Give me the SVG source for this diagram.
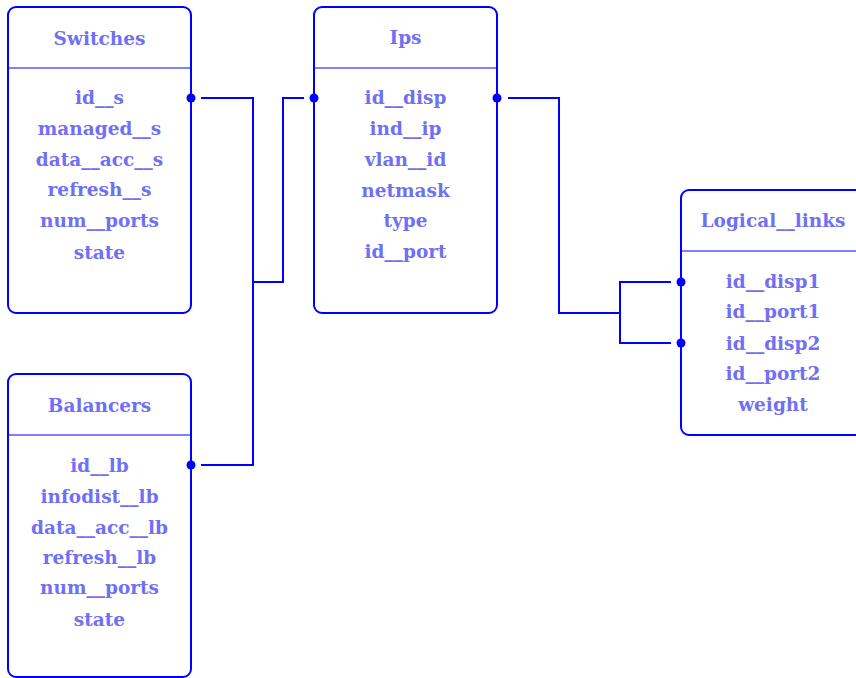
<svg xmlns="http://www.w3.org/2000/svg" width="856" height="678" viewBox="0 0 856 678">
<style>
.box{fill:#fff;stroke:#0000ff;stroke-width:2}
.sep{stroke:#0000ff;stroke-width:1.2}
.t{font-family:"DejaVu Serif","Liberation Serif",serif;font-weight:bold;font-size:18.5px;fill:#7070f4;text-anchor:middle}
.c{fill:none;stroke:#0000ff;stroke-width:2}
.d{fill:#0000ff}
</style>
<rect width="856" height="678" fill="#fff"/>
<g id="switches">
<rect class="box" x="8" y="7" width="183" height="306" rx="8"/>
<line class="sep" x1="8" y1="68" x2="191" y2="68"/>
<text class="t" x="99.5" y="45">Switches</text>
<text class="t" x="99.5" y="104">id__s</text>
<text class="t" x="99.5" y="135">managed__s</text>
<text class="t" x="99.5" y="166">data__acc__s</text>
<text class="t" x="99.5" y="196">refresh__s</text>
<text class="t" x="99.5" y="227">num__ports</text>
<text class="t" x="99.5" y="259">state</text>
</g>
<g id="ips">
<rect class="box" x="314" y="7" width="183" height="306" rx="8"/>
<line class="sep" x1="314" y1="68" x2="497" y2="68"/>
<text class="t" x="405.5" y="44">Ips</text>
<text class="t" x="405.5" y="104">id__disp</text>
<text class="t" x="405.5" y="135">ind__ip</text>
<text class="t" x="405.5" y="166">vlan__id</text>
<text class="t" x="405.5" y="197">netmask</text>
<text class="t" x="405.5" y="227">type</text>
<text class="t" x="405.5" y="258">id__port</text>
</g>
<g id="balancers">
<rect class="box" x="8" y="374" width="183" height="303" rx="8"/>
<line class="sep" x1="8" y1="435" x2="191" y2="435"/>
<text class="t" x="99.5" y="412">Balancers</text>
<text class="t" x="99.5" y="472">id__lb</text>
<text class="t" x="99.5" y="503">infodist__lb</text>
<text class="t" x="99.5" y="534">data__acc__lb</text>
<text class="t" x="99.5" y="564">refresh__lb</text>
<text class="t" x="99.5" y="594">num__ports</text>
<text class="t" x="99.5" y="626">state</text>
</g>
<g id="logical_links">
<rect class="box" x="681" y="190" width="190" height="245" rx="8"/>
<line class="sep" x1="681" y1="251" x2="856" y2="251"/>
<text class="t" x="773" y="227">Logical__links</text>
<text class="t" x="773" y="288">id__disp1</text>
<text class="t" x="773" y="318">id__port1</text>
<text class="t" x="773" y="350">id__disp2</text>
<text class="t" x="773" y="380">id__port2</text>
<text class="t" x="773" y="411">weight</text>
</g>
<g id="connectors">
<polyline class="c" points="201,98 253,98 253,465 201,465"/>
<polyline class="c" points="253,282 283,282 283,98 304,98"/>
<polyline class="c" points="508,98 559,98 559,313 620,313"/>
<polyline class="c" points="671,282 620,282 620,343 671,343"/>
<circle class="d" cx="191" cy="98" r="4.5"/>
<circle class="d" cx="191" cy="465" r="4.5"/>
<circle class="d" cx="314" cy="98" r="4.5"/>
<circle class="d" cx="497" cy="98" r="4.5"/>
<circle class="d" cx="681" cy="282" r="4.5"/>
<circle class="d" cx="681" cy="343" r="4.5"/>
</g>
</svg>
